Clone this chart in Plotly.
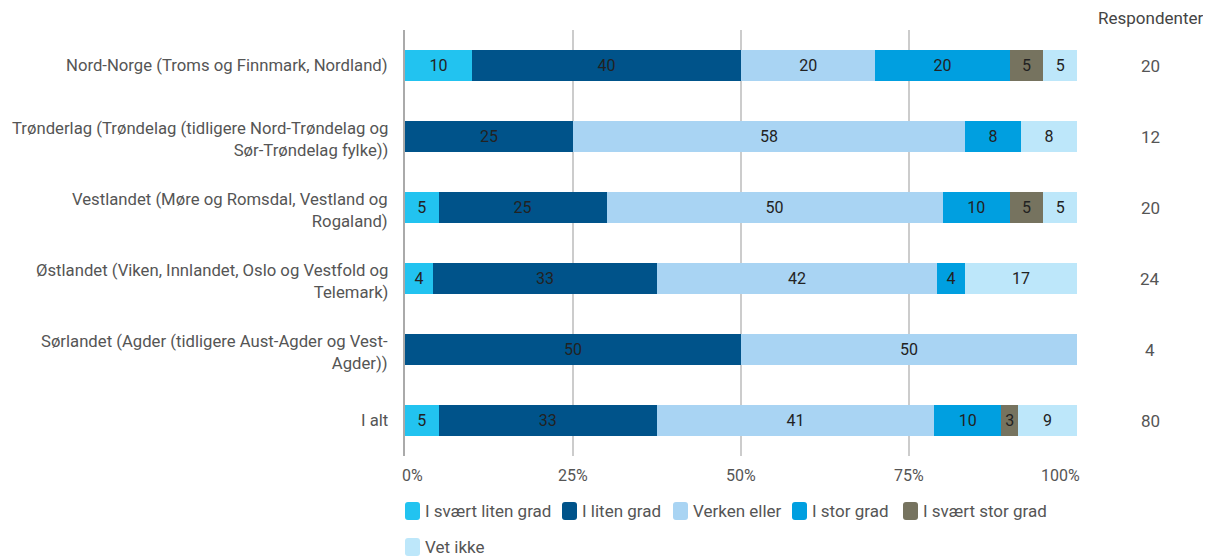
import plotly.graph_objects as go

categories = [
    "Nord-Norge (Troms og Finnmark, Nordland)",
    "Trønderlag (Trøndelag (tidligere Nord-Trøndelag og<br>Sør-Trøndelag fylke))",
    "Vestlandet (Møre og Romsdal, Vestland og<br>Rogaland)",
    "Østlandet (Viken, Innlandet, Oslo og Vestfold og<br>Telemark)",
    "Sørlandet (Agder (tidligere Aust-Agder og Vest-<br>Agder))",
    "I alt",
]
respondents = [20, 12, 20, 24, 4, 80]

series_names = ["I svært liten grad", "I liten grad", "Verken eller",
                "I stor grad", "I svært stor grad", "Vet ikke"]
svaert_liten = [10, 0, 5, 4.17, 0, 5]
liten = [40, 25, 25, 33.33, 50, 32.5]
verken = [20, 58.33, 50, 41.67, 50, 41.25]
stor = [20, 8.33, 10, 4.17, 0, 10]
svaert_stor = [5, 0, 5, 0, 0, 2.5]
vet_ikke = [5, 8.33, 5, 16.67, 0, 8.75]
series_values = [svaert_liten, liten, verken, stor, svaert_stor, vet_ikke]
colors = ["#22C3F0", "#00538A", "#A9D4F3", "#009FE0", "#76735F", "#BDE7FA"]

tick_vals = [0, 25, 50, 75, 100]
tick_labels = ["0%", "25%", "50%", "75%", "100%"]

# ---- layout geometry (screen pixels; page has an 8px body offset) ----
W, H = 1211, 558
OFF = 8
L, R, T, B = 405 - OFF, 1077 - OFF, 30 - OFF, 456 - OFF
ml, mr, mt, mb = L, W - R, T, H - B


def px(xs):
    return (xs - OFF - L) / (R - L)


def py(ys):
    return (B - (ys - OFF)) / (B - T)


FONT = "Roboto"
GRAY = "#555555"

fig = go.Figure()
for name, vals, col in zip(series_names, series_values, colors):
    xs = [v if v > 0 else None for v in vals]
    fig.add_trace(go.Bar(
        y=categories, x=xs, name=name, orientation="h",
        marker=dict(color=col, line=dict(width=0)),
        texttemplate="%{x:.0f}", textposition="inside", insidetextanchor="middle",
        textangle=0, insidetextfont=dict(color="#222222", size=16, family=FONT),
        hoverinfo="skip", showlegend=False,
    ))

# category labels (right-aligned next to the axis)
for cat in categories:
    multi = "<br>" in cat
    fig.add_annotation(x=0, xref="paper", y=cat, yref="y", text=cat,
                       showarrow=False, xanchor="right", yanchor="middle", align="right",
                       xshift=-15, yshift=-3 if multi else 0,
                       font=dict(size=16.7, color=GRAY, family=FONT))

# x tick labels (end labels kept inside the plot width)
for v, t in zip(tick_vals, tick_labels):
    if v == tick_vals[0]:
        anchor, shift = "left", -5
    elif v == tick_vals[-1]:
        anchor, shift = "right", 5
    else:
        anchor, shift = "center", 0
    fig.add_annotation(x=v, xref="x", y=py(475), yref="paper", text=t,
                       showarrow=False, xanchor=anchor, yanchor="middle", xshift=shift,
                       font=dict(size=16, color=GRAY, family=FONT))

# respondent column
for cat, r in zip(categories, respondents):
    fig.add_annotation(x=px(1150), xref="paper", y=cat, yref="y",
                       text=str(r), showarrow=False, xanchor="center",
                       font=dict(size=17, color=GRAY, family=FONT))
fig.add_annotation(x=px(1150), xref="paper", y=py(18), yref="paper",
                   text="Respondenter", showarrow=False, xanchor="center", yanchor="middle",
                   font=dict(size=17, color="#444444", family=FONT))

# custom legend (rounded swatches)
legend_pos = [(405, 511), (562, 511), (673, 511), (792, 511), (903, 511), (405, 547)]
sw_w, sw_h, rad = 15, 18, 3
shapes = []
for (lx, ly), name, col in zip(legend_pos, series_names, colors):
    x0, x1 = px(lx), px(lx + sw_w)
    y0, y1 = py(ly + sw_h / 2), py(ly - sw_h / 2)
    rx = rad / (R - L)
    ry = rad / (B - T)
    path = (f"M{x0+rx},{y0} L{x1-rx},{y0} Q{x1},{y0} {x1},{y0+ry} "
            f"L{x1},{y1-ry} Q{x1},{y1} {x1-rx},{y1} L{x0+rx},{y1} "
            f"Q{x0},{y1} {x0},{y1-ry} L{x0},{y0+ry} Q{x0},{y0} {x0+rx},{y0} Z")
    shapes.append(dict(type="path", path=path, xref="paper", yref="paper",
                       fillcolor=col, line=dict(width=0)))
    fig.add_annotation(x=px(lx + sw_w + 3), xref="paper", y=py(ly), yref="paper",
                       text=name, showarrow=False, xanchor="left", yanchor="middle",
                       font=dict(size=17, color=GRAY, family=FONT))

fig.update_layout(
    width=W, height=H, barmode="stack", bargap=0.56,
    margin=dict(l=ml, r=mr, t=mt, b=mb, autoexpand=False),
    plot_bgcolor="white", paper_bgcolor="white",
    font=dict(family=FONT, size=16, color=GRAY),
    uniformtext=dict(minsize=16, mode="show"),
    showlegend=False,
    shapes=shapes,
    xaxis=dict(range=[0, 100], tickvals=tick_vals, showticklabels=False,
               showgrid=True, gridcolor="#cccccc", gridwidth=1.5, zeroline=False,
               ticks="", automargin=False, fixedrange=True),
    yaxis=dict(autorange="reversed", showline=True, linecolor="#aaaaaa", linewidth=2,
               ticks="", showticklabels=False, automargin=False, fixedrange=True),
)

fig.write_html("out.html", config={"displayModeBar": False})
